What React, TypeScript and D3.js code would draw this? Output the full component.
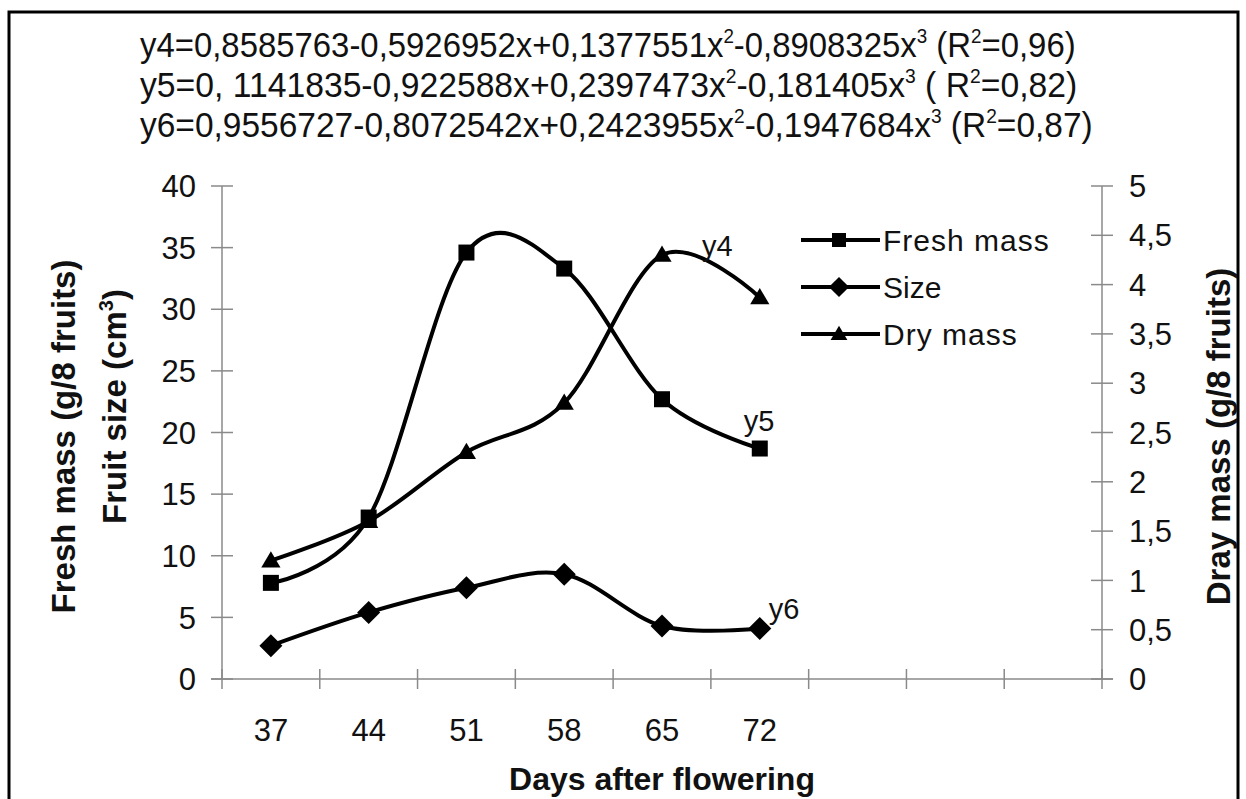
import React, { useRef, useEffect } from 'react';
import * as d3 from 'd3';

// constants
const width = 1246;
const height = 799;
const margin = { top: 186, right: 144, bottom: 120, left: 222 };
const innerWidth = width - margin.left - margin.right;
const innerHeight = height - margin.top - margin.bottom;

// data
const days = ['37', '44', '51', '58', '65', '72'];
const slotCount = 9; // axis keeps 3 empty categories after 72
const freshMass = [7.8, 13.1, 34.6, 33.3, 22.7, 18.7];
const fruitSize = [2.7, 5.4, 7.4, 8.5, 4.3, 4.1];
const dryMass = [1.2, 1.6, 2.3, 2.8, 4.3, 3.87];
const leftTicks = [0, 5, 10, 15, 20, 25, 30, 35, 40];
const rightTicks = [0, 0.5, 1, 1.5, 2, 2.5, 3, 3.5, 4, 4.5, 5];

const equations = [
  ['y4=0,8585763-0,5926952x+0,1377551x', '2', '-0,8908325x', '3', ' (R', '2', '=0,96)'],
  ['y5=0, 1141835-0,922588x+0,2397473x', '2', '-0,181405x', '3', ' ( R', '2', '=0,82)'],
  ['y6=0,9556727-0,8072542x+0,2423955x', '2', '-0,1947684x', '3', ' (R', '2', '=0,87)'],
];
const equationSqueeze = [0.94, 0.963, 0.957];

const font = 'Liberation Sans, Arial, sans-serif';
const axisGrey = '#8a8a8a';
const fmtComma = (v: number) => String(v).replace('.', ',');

const Marker = ({ kind, x, y, s }: { kind: string; x: number; y: number; s: number }) => {
  if (kind === 'square') return <rect x={x - s / 2} y={y - s / 2} width={s} height={s} fill="#000" />;
  if (kind === 'diamond') {
    const r = s * 0.72;
    return <path d={`M${x},${y - r}L${x + r},${y}L${x},${y + r}L${x - r},${y}Z`} fill="#000" />;
  }
  const h = s * 0.95;
  return <path d={`M${x},${y - h * 0.62}L${x + s * 0.6},${y + h * 0.45}L${x - s * 0.6},${y + h * 0.45}Z`} fill="#000" />;
};

const App = () => {
  const linesRef = useRef<SVGGElement>(null);

  // scales
  const xScale = d3.scaleBand<number>().domain(d3.range(slotCount)).range([0, innerWidth]);
  const xc = (i: number) => (xScale(i) as number) + xScale.bandwidth() / 2;
  const yLeft = d3.scaleLinear().domain([0, 40]).range([innerHeight, 0]);
  const yRight = d3.scaleLinear().domain([0, 5]).range([innerHeight, 0]);

  const series = [
    { name: 'Fresh mass', values: freshMass, scale: yLeft, marker: 'square' },
    { name: 'Size', values: fruitSize, scale: yLeft, marker: 'diamond' },
    { name: 'Dry mass', values: dryMass, scale: yRight, marker: 'triangle' },
  ];

  // D3 code for the smoothed lines
  useEffect(() => {
    const g = d3.select(linesRef.current);
    g.selectAll('.line')
      .data(series)
      .join('path')
      .classed('line', true)
      .attr('fill', 'none')
      .attr('stroke', '#000')
      .attr('stroke-width', 4)
      .attr('stroke-linejoin', 'round')
      .attr('d', s =>
        d3.line<number>()
          .x((d, i) => xc(i))
          .y(d => s.scale(d))
          .curve(d3.curveCatmullRom.alpha(0))(s.values)
      );
  }, []);

  const last = days.length - 1;

  return (
    <svg width={width} height={height} style={{ position: 'absolute', left: 0, top: 0, background: '#fff' }}>
      {/* outer frame */}
      <rect x={9} y={12} width={1229} height={820} fill="none" stroke="#000" strokeWidth={3} />

      {/* equations, slightly condensed like the original */}
      {equations.map((parts, k) => (
        <g key={k} transform={`translate(140,${57 + k * 40}) scale(${equationSqueeze[k]},1)`}>
          <text fontFamily={font} fontSize={35} fill="#111">
            {parts.map((p, j) =>
              j % 2 === 1
                ? <tspan key={j} fontSize={20} dy={-14}>{p}</tspan>
                : <tspan key={j} dy={j === 0 ? 0 : 14}>{p}</tspan>
            )}
          </text>
        </g>
      ))}

      <g transform={`translate(${margin.left},${margin.top})`} fontFamily={font}>
        {/* left axis */}
        <line x1={0} x2={0} y1={0} y2={innerHeight} stroke={axisGrey} strokeWidth={1.5} />
        {leftTicks.map(t => (
          <g key={t} transform={`translate(0,${yLeft(t)})`}>
            <line x1={-11} x2={11} stroke={axisGrey} strokeWidth={1.5} />
            <text x={-26} dy="0.36em" textAnchor="end" fontSize={31} fill="#111">{t}</text>
          </g>
        ))}
        {/* right axis */}
        <line x1={innerWidth} x2={innerWidth} y1={0} y2={innerHeight} stroke={axisGrey} strokeWidth={1.5} />
        {rightTicks.map(t => (
          <g key={t} transform={`translate(${innerWidth},${yRight(t)})`}>
            <line x1={-11} x2={11} stroke={axisGrey} strokeWidth={1.5} />
            <text x={27} dy="0.36em" textAnchor="start" fontSize={31} fill="#111">{fmtComma(t)}</text>
          </g>
        ))}
        {/* x axis */}
        <line x1={-11} x2={innerWidth + 11} y1={innerHeight} y2={innerHeight} stroke={axisGrey} strokeWidth={1.5} />
        {d3.range(slotCount + 1).map(i => (
          <line key={i} x1={i * xScale.step()} x2={i * xScale.step()} y1={innerHeight - 10} y2={innerHeight + 10}
            stroke={axisGrey} strokeWidth={1.5} />
        ))}
        {days.map((d, i) => (
          <text key={d} x={xc(i)} y={innerHeight + 62} textAnchor="middle" fontSize={31} fill="#111">{d}</text>
        ))}

        {/* series */}
        <g ref={linesRef}></g>
        {series.map(s => s.values.map((v, i) => (
          <Marker key={s.name + i} kind={s.marker} x={xc(i)} y={s.scale(v)} s={16} />
        )))}

        {/* curve labels */}
        <text x={xc(4) + 40} y={yRight(dryMass[4]) + 1} fontSize={29} fill="#111">y4</text>
        <text x={xc(last) - 16} y={yLeft(freshMass[last]) - 18} fontSize={29} fill="#111">y5</text>
        <text x={xc(last) + 9} y={yLeft(fruitSize[last]) - 9} fontSize={29} fill="#111">y6</text>

        {/* axis titles */}
        <text x={innerWidth / 2} y={innerHeight + 111} textAnchor="middle" fontSize={32} fontWeight="bold" fill="#111">
          Days after flowering
        </text>
        <text transform={`translate(${-147},${innerHeight / 2 + 4}) rotate(-90)`} textAnchor="middle" fontSize={33}
          fontWeight="bold" fill="#111">Fresh mass (g/8 fruits)</text>
        <text transform={`translate(${-96},${innerHeight / 2 - 26}) rotate(-90)`} textAnchor="middle" fontSize={33}
          fontWeight="bold" fill="#111">
          Fruit size (cm<tspan fontSize={20} dy={-13}>3</tspan><tspan dy={13}>)</tspan>
        </text>
        <text transform={`translate(${innerWidth + 128},${innerHeight / 2 + 4}) rotate(-90)`} textAnchor="middle"
          fontSize={33} fontWeight="bold" fill="#111">Dray mass (g/8 fruits)</text>

        {/* legend */}
        {series.map((s, k) => (
          <g key={s.name} transform={`translate(${801 - margin.left},${240 - margin.top + k * 47})`}>
            <line x1={0} x2={79} stroke="#000" strokeWidth={4} />
            <Marker kind={s.marker} x={38} y={0} s={14} />
            <text x={82} dy="0.36em" fontSize={30} fill="#111" letterSpacing={k === 1 ? 0 : 1}>{s.name}</text>
          </g>
        ))}
      </g>
    </svg>
  );
};

export default App;
